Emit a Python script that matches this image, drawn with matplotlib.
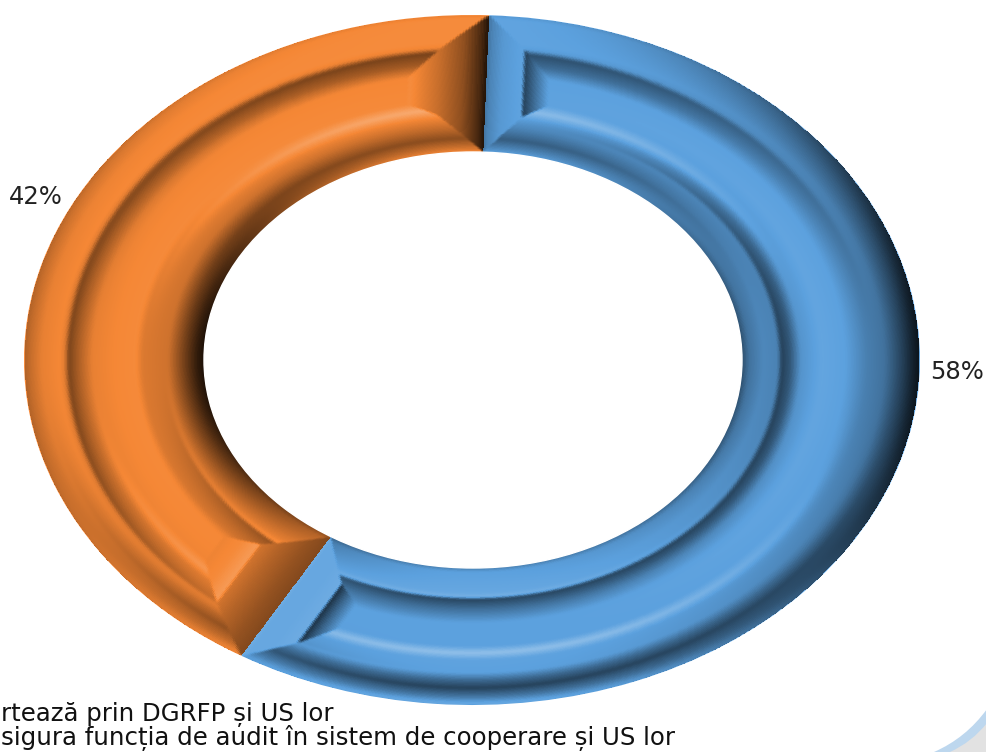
import numpy as np
import matplotlib
matplotlib.use("Agg")
import matplotlib.pyplot as plt
from matplotlib.patches import Ellipse, PathPatch
from matplotlib.path import Path

# data
categories = ["A", "B"]
values = [58, 42]
value_labels = ["58%", "42%"]
legend_lines = ["rtează prin DGRFP și US lor",
                "sigura funcția de audit în sistem de cooperare și US lor"]
colors = [(0.36, 0.63, 0.87), (0.96, 0.53, 0.21)]

W, H = 987, 752
CX, CY, RX, RY = 472.0, 360.0, 448.0, 345.0
ICX, ICY, IRX, IRY = 473.0, 360.0, 269.0, 208.0
START = 2.2

def dx(p): return (p - CX) / RX
def dy(p): return -(p - CY) / RY

plt.rcParams["font.family"] = ["DejaVu Sans"]
fig = plt.figure(figsize=(W / 100, H / 100), dpi=100, facecolor="white")
ax = fig.add_axes([0, 0, 1, 1])
wedges, _ = ax.pie(values, colors=colors, startangle=90 - START, counterclock=False, radius=1.0)
ax.set_aspect("auto")
ax.set_xlim(dx(0), dx(W))
ax.set_ylim(dy(H), dy(0))
ax.axis("off")

# radial relief profiles, t = 0 outer edge, t = 1 inner edge
prof_t = {
    "top":    ([0, .03, .2, .235, .27, .35, .43, .62, .68, .74, .83, .9, .96, 1],
               [.95, 1.03, 1.03, .98, .5, .68, 1.0, 1.02, 1.28, 1.0, .78, .58, .82, 1.0]),
    "right":  ([0, .04, .1, .2, .3, .42, .55, .67, .73, .775, .8, .88, .96, 1],
               [.12, .22, .42, .72, .8, 1.0, 1.04, .92, .55, .42, .82, .85, .72, .5]),
    "bottom": ([0, .015, .06, .125, .18, .235, .33, .38, .43, .6, .70, .77, .79, .82, .97, 1],
               [1.05, 1.05, .75, .42, .66, 1.0, 1.02, 1.3, 1.0, 1.0, .7, .45, 1.15, 1.06, 1.0, .8]),
    "left":   ([0, .03, .1, .2, .225, .25, .3, .38, .5, .62, .66, .8, .9, .96, 1],
               [.72, .8, .95, 1.0, .92, .52, .7, .95, 1.0, 1.02, .9, .85, .45, .22, .12]),
}
# end-cap relief: (positions in depth q, shade)
caps = {
    "blue_start":   ([0, .08, .4, .95, 1.0, 1.5, 2], [.72, .82, .95, 1.02, .42, .72, 1.0]),
    "blue_end":     ([0, .08, .5, .95, 1.0, 1.4, 2], [1.12, 1.06, 1.06, 1.1, .32, .62, 1.0]),
    "orange_start": ([0, .3, .7, .98, 1.04, 1.5, 2], [.55, .62, .75, .86, 1.15, 1.02, .97]),
    "orange_end":   ([0, .12, .5, 1, 1.5, 2], [.14, .3, .6, .82, .93, 1.05]),
}
cap_scale = {"blue_start": 1.0, "blue_end": 1.05, "orange_start": 1.35, "orange_end": 1.25}

def depth_radial(t):
    qo = np.interp(t, [0, .24, .42], [0, 1, 2])
    qi = np.interp(1 - t, [0, .28, .38], [0, 1, 2])
    return np.minimum(qo, qi)

def depth_tangent(s):
    return np.interp(s, [0, 38, 62], [0, 1, 2])

def shade(base, m):
    base = np.array(base)
    m = m[..., None]
    dark = base * np.clip(m, 0, 1) ** 1.05
    light = base + (1 - base) * np.clip(m - 1, 0, 1) * 1.1
    return np.clip(np.where(m <= 1, dark, light), 0, 1)

def soften(m, nr=5, nth=3):
    k_r = np.ones(nr) / nr
    k_t = np.ones(nth) / nth
    p = np.pad(m, ((nr // 2, nr // 2), (nth // 2, nth // 2)), mode="edge")
    p = np.apply_along_axis(lambda v: np.convolve(v, k_r, mode="valid"), 0, p)
    p = np.apply_along_axis(lambda v: np.convolve(v, k_t, mode="valid"), 1, p)
    return p

nt = 240
tt = np.linspace(0.004, 1, nt + 1)
tc = 0.5 * (tt[:-1] + tt[1:])

def ring_xy(th_deg, t):
    th = np.radians(th_deg)
    phi = th + np.radians(1.0) * np.sin(th / 2) ** 2
    xo, yo = CX + RX * np.sin(th), CY - RY * np.cos(th)
    xi, yi = ICX + IRX * np.sin(phi), ICY - IRY * np.cos(phi)
    return xo + (xi - xo) * t, yo + (yi - yo) * t

total = sum(values)
angle = START
cap_names = [("blue_start", "blue_end"), ("orange_start", "orange_end")]
for val, col, (cap_a, cap_b) in zip(values, colors, cap_names):
    span = 360.0 * val / total
    nth = int(span * 5)
    th_e = np.linspace(angle, angle + span, nth + 1)
    th_c = 0.5 * (th_e[:-1] + th_e[1:])
    TH, T = np.meshgrid(th_c, tc)
    rad = np.radians(TH)
    M = np.zeros_like(TH)
    for name, ang in zip(["top", "right", "bottom", "left"], [0, 90, 180, 270]):
        w = np.clip(np.cos(rad - np.radians(ang)), 0, None) ** 2
        M += w * np.interp(T, *prof_t[name])
    qr = depth_radial(T)
    rx_loc = RX + (IRX - RX) * T
    ry_loc = RY + (IRY - RY) * T
    speed = np.hypot(rx_loc * np.cos(rad), ry_loc * np.sin(rad))
    s_a = np.radians(TH - angle) * speed
    s_b = np.radians(angle + span - TH) * speed
    for s, nm in ((s_a, cap_a), (s_b, cap_b)):
        qs = depth_tangent(s / cap_scale[nm])
        mask = qs < qr
        M = np.where(mask, np.interp(qs, *caps[nm]), M)
    M = soften(M)
    THE, TE = np.meshgrid(th_e, tt)
    X, Y = ring_xy(THE, TE)
    ax.pcolormesh(dx(X), dy(Y), shade(col, M), shading="flat", antialiased=False,
                  linewidth=0, zorder=3, rasterized=True)
    angle += span

ax.add_patch(Ellipse((dx(ICX), dy(ICY)), 2 * IRX / RX, 2 * IRY / RY,
                     fc="white", ec="white", lw=1.0, zorder=4))

# value labels
ax.text(dx(957), dy(372), value_labels[0], ha="center", va="center", fontsize=17.5, color="#222222", zorder=6)
ax.text(dx(36), dy(197), value_labels[1], ha="center", va="center", fontsize=17.5, color="#222222", zorder=6)

# partially cropped legend text
ax.text(dx(1), dy(721), legend_lines[0], ha="left", va="baseline", fontsize=17.6, color="#111111", zorder=6)
ax.text(dx(1), dy(745), legend_lines[1], ha="left", va="baseline", fontsize=17.6, color="#111111", zorder=6)

# page decoration in the lower right corner
def corner(points_px, fc):
    v = [(dx(a), dy(b)) for a, b in points_px]
    c = [Path.MOVETO, Path.CURVE3, Path.CURVE3, Path.LINETO, Path.LINETO, Path.CLOSEPOLY]
    ax.add_patch(PathPatch(Path(v, c), fc=fc, ec="none", zorder=5))

corner([(987, 709), (966, 738), (934, 752), (987, 752), (987, 752), (987, 752)], "#BDD7EE")
corner([(987, 723), (972, 742), (950, 752), (987, 752), (987, 752), (987, 752)], "#E2E2E2")

fig.savefig("out.png", dpi=100, facecolor="white")
